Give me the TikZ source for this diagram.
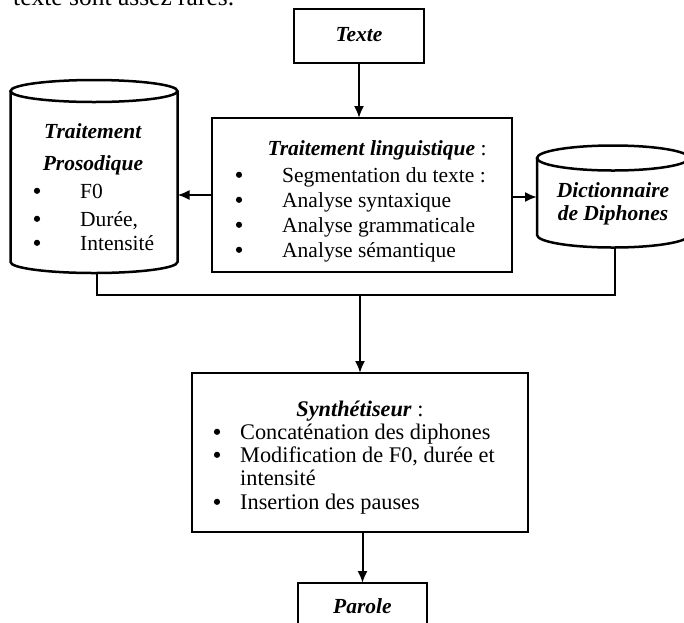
\documentclass[tikz,border=0pt]{standalone}
\usepackage{fontspec}
\setmainfont{Liberation Serif}
\usetikzlibrary{arrows.meta}
\begin{document}
\begin{tikzpicture}[x=1pt,y=-1pt,
  box/.style={draw, line width=2.5pt, inner sep=0pt, outer sep=0pt},
  cyl/.style={draw, line width=2.5pt},
  conn/.style={line width=2pt},
  arr/.style={conn, -{Latex[length=12pt,width=10pt]}},
  txt/.style={anchor=base west, inner sep=0pt, font=\fontsize{21.5}{24}\selectfont},
  ctxt/.style={anchor=base, inner sep=0pt, font=\fontsize{21.5}{24}\selectfont},
  bul/.style={circle, fill=black, inner sep=0pt, minimum size=6.2pt, yshift=7.2pt},
  stxt/.style={anchor=base west, inner sep=0pt, font=\fontsize{22.3}{24}\selectfont},
]
\useasboundingbox (0,0) rectangle (684,622);
\clip (0,0) rectangle (684,622);

% cut-off line of running text above the figure
\node[anchor=base west, inner sep=0pt, font=\fontsize{25.5}{28}\selectfont] (prev) at (13,5) {texte sont assez rares.};

% boxes
\node[box, minimum width=130pt, minimum height=54pt] (texte) at (359,36) {};
\node[box, minimum width=300pt, minimum height=154pt] (ling) at (362,195) {};
\node[box, minimum width=336pt, minimum height=159pt] (synth) at (360,452.5) {};
\node[box, minimum width=129pt, minimum height=57pt] (parole) at (362.5,611.5) {};

% cylinders
\draw[cyl] (94,91) ellipse[x radius=83.5, y radius=11];
\draw[cyl] (10.5,91) -- (10.5,262) arc[start angle=180, end angle=0, x radius=83.5, y radius=11] -- (177.5,91);
\draw[cyl] (613,158) ellipse[x radius=76, y radius=12.5];
\draw[cyl] (537,158) -- (537,235) arc[start angle=180, end angle=0, x radius=76, y radius=12.5] -- (689,158);

\coordinate (prosE) at (177.5,195);
\coordinate (prosB) at (97,273);
\coordinate (dictW) at (537,197);
\coordinate (dictB) at (615,247.5);
\coordinate (busL) at (97,295);
\coordinate (busR) at (615,295);
\coordinate (busM) at (360,295);

% texts
\node[ctxt] (texteL) at (359,41) {\textbf{\textit{Texte}}};
\node[ctxt] (paroleL) at (362.5,613) {\textbf{\textit{Parole}}};

\node[ctxt] (lingT) at (377,155) {\textbf{\textit{Traitement linguistique}} :};
\foreach \y/\t [count=\i] in {182/{Segmentation du texte :},207/{Analyse syntaxique},232/{Analyse grammaticale}} {
  \node[bul] (lb\i) at (239,\y) {};
  \node[txt] (lt\i) at (282,\y) {\t};
}
\begin{scope}
  \clip (212,118) rectangle (512,261.5);
  \node[bul] (lb4) at (239,257) {};
  \node[txt] (lt4) at (282,257) {Analyse sémantique};
\end{scope}

\node[ctxt] (prosT1) at (93,138) {\textbf{\textit{Traitement}}};
\node[ctxt] (prosT2) at (93,170) {\textbf{\textit{Prosodique}}};
\foreach \y/\t [count=\i] in {198/{F0},226/{Durée,},250/{Intensité}} {
  \node[bul] (pb\i) at (37,\y) {};
  \node[txt] (pt\i) at (80,\y) {\t};
}

\node[ctxt] (dictT1) at (613,197) {\textbf{\textit{Dictionnaire}}};
\node[ctxt] (dictT2) at (613,220) {\textbf{\textit{de Diphones}}};

\node[ctxt, font=\fontsize{22.3}{24}\selectfont] (synthT) at (360,416) {\textbf{\textit{Synthétiseur}} :};
\node[bul] (sb1) at (217,439) {};
\node[stxt] (st1) at (240,439) {Concaténation des diphones};
\node[bul] (sb2) at (217,462) {};
\node[stxt] (st2) at (240,462) {Modification de F0, durée et};
\node[stxt] (st3) at (240,485) {intensité};
\node[bul] (sb3) at (217,509) {};
\node[stxt] (st4) at (240,509) {Insertion des pauses};

% connectors
\draw[arr] (texte.south) -- (texte.south |- ling.north);
\draw[arr] (ling.west) -- (prosE);
\draw[arr] (ling.east |- dictW) -- (dictW);
\draw[conn] (prosB) -- (busL) -- (busR) -- (dictB);
\draw[arr] (busM) -- (busM |- synth.north);
\draw[arr] (synth.south -| parole.north) -- (parole.north);
\end{tikzpicture}
\end{document}
